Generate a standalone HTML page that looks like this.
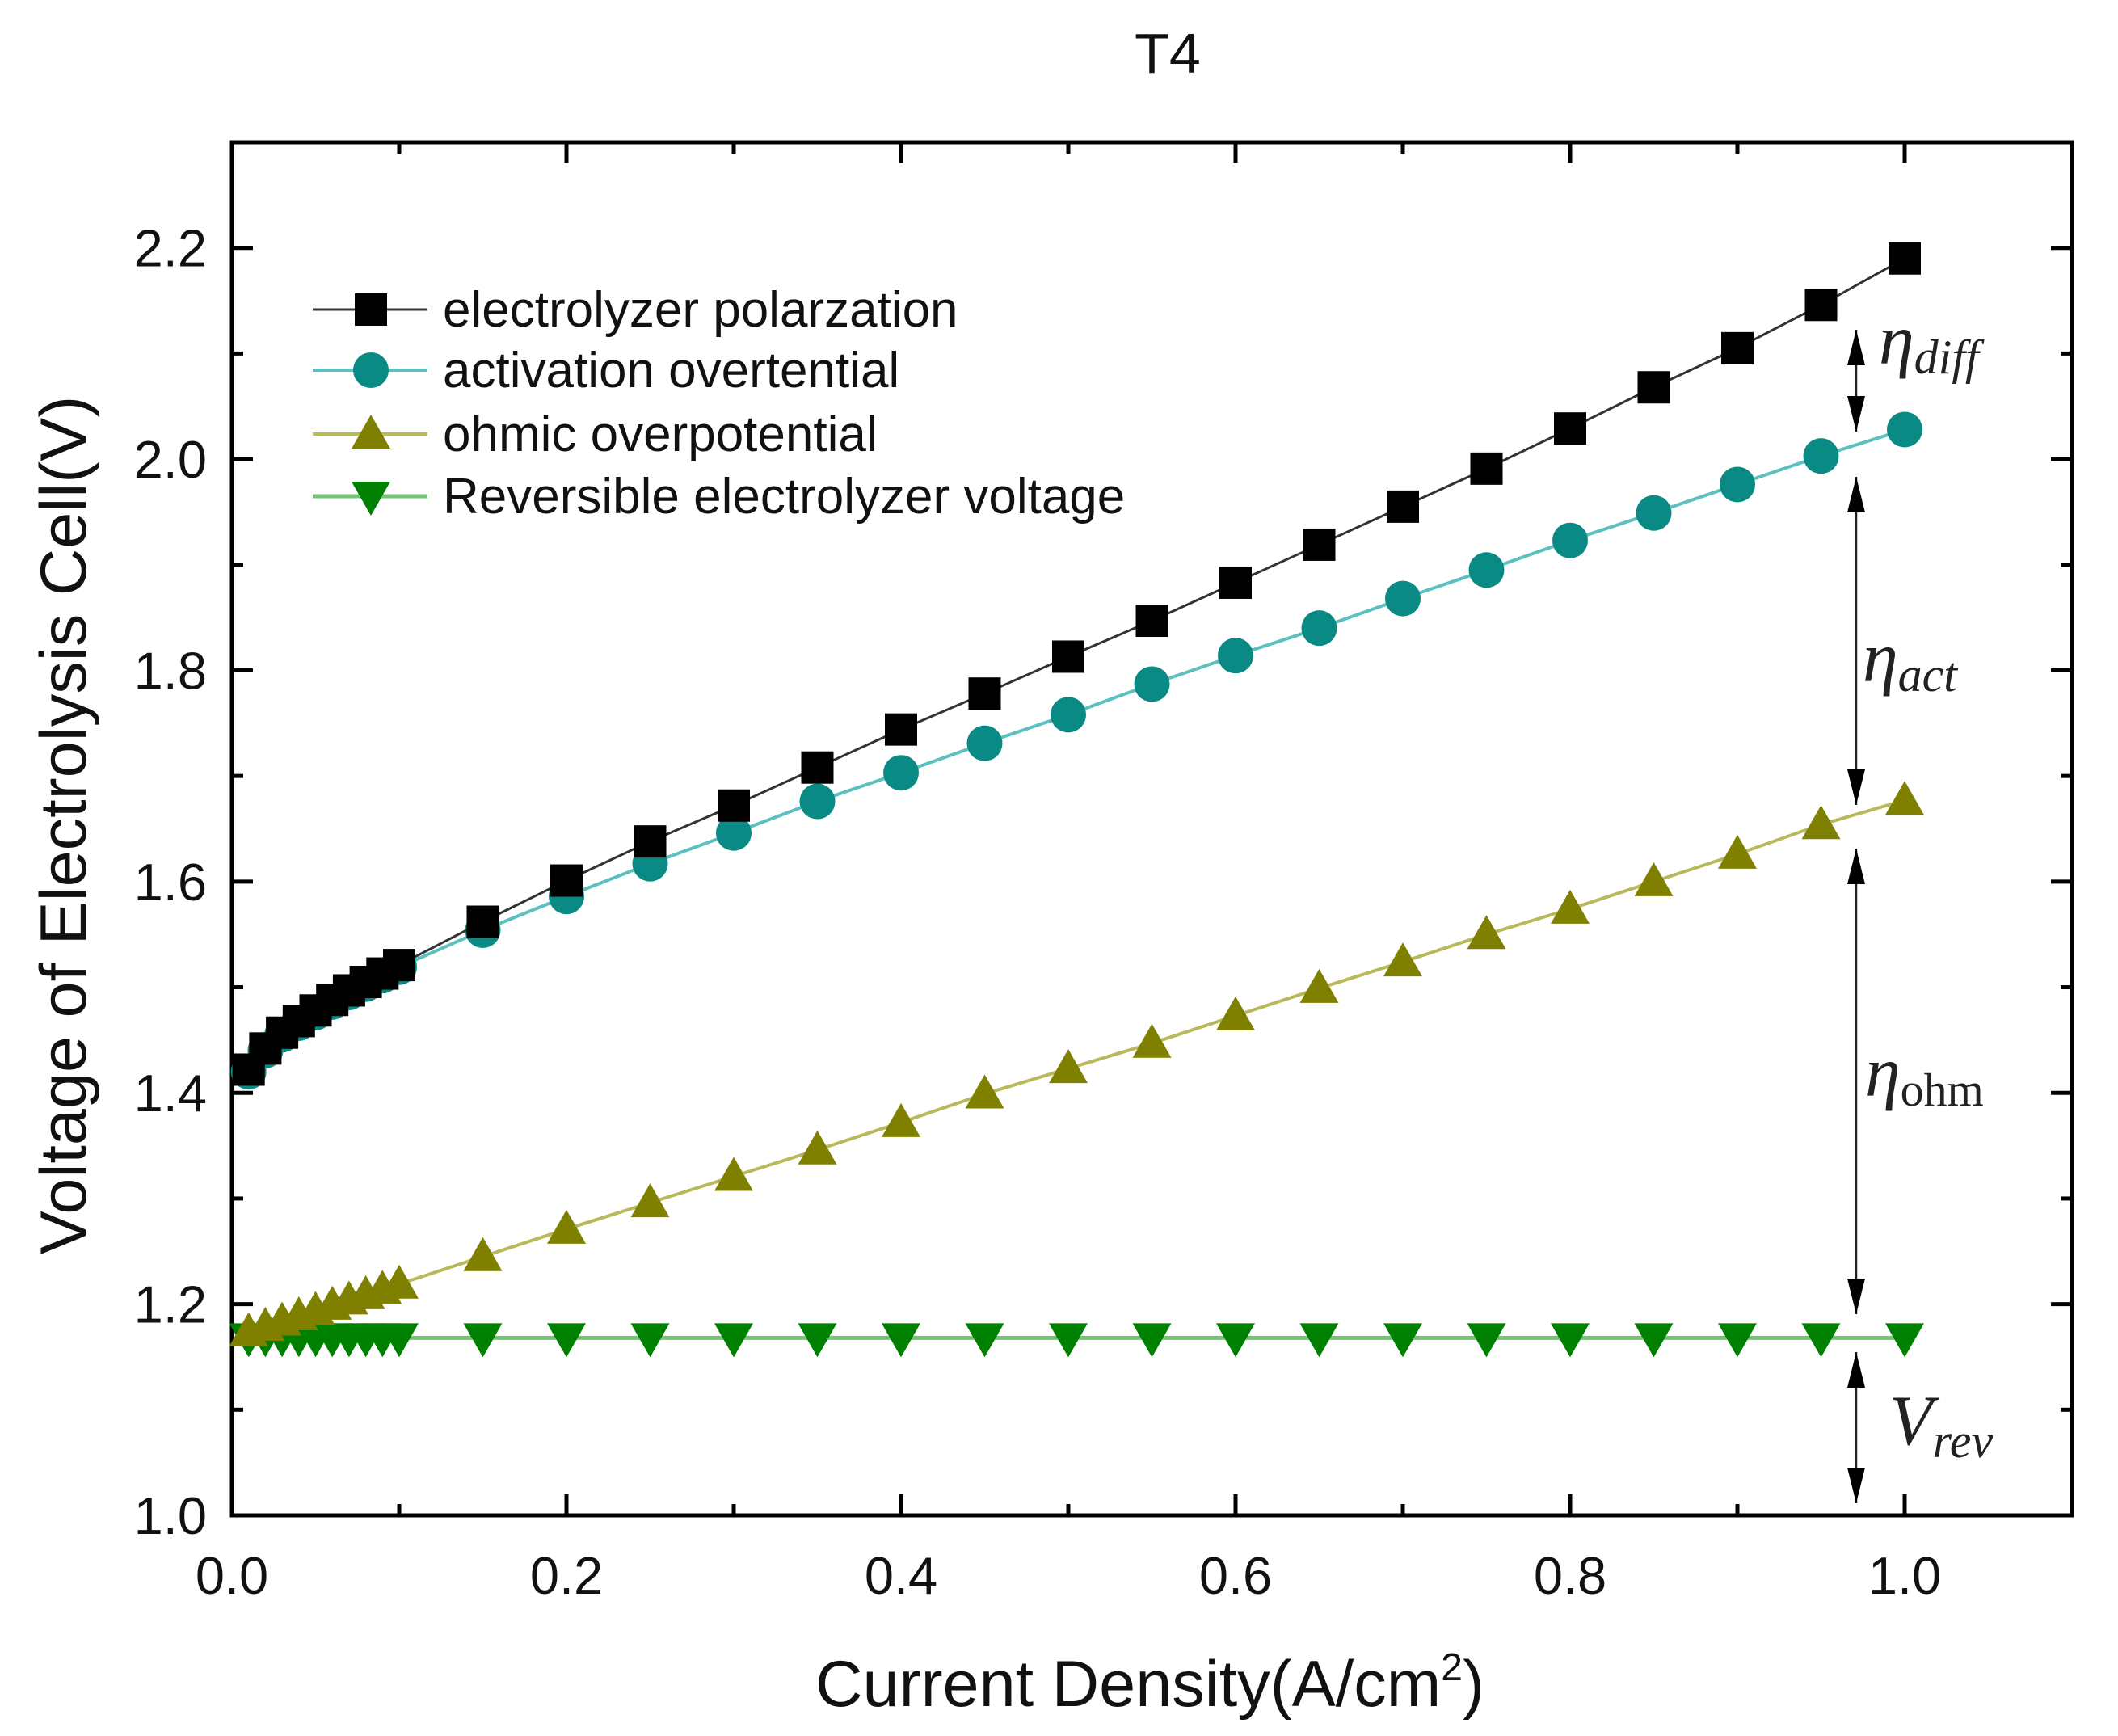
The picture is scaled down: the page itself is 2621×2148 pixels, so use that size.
<!DOCTYPE html>
<html><head><meta charset="utf-8"><style>
html,body{margin:0;padding:0;background:#fff;}
svg{display:block;}
text{font-family:"Liberation Sans",sans-serif;fill:#111;}
.ann{font-family:"Liberation Serif",serif;font-style:italic;fill:#222;}
</style></head><body>
<svg id="chart" width="2621" height="2148" viewBox="0 0 2621 2148" xmlns="http://www.w3.org/2000/svg">
<defs>
<marker id="ah2" viewBox="0 0 40 20" refX="40" refY="10" markerWidth="44" markerHeight="22" markerUnits="userSpaceOnUse" orient="auto-start-reverse"><path d="M0,0 L40,10 L0,20 z" fill="#000"/></marker>
</defs>
<text x="1445" y="90" font-size="70" text-anchor="middle">T4</text>
<g id="plot"></g>
</svg>
<script>
const xLow = [0.01,0.02,0.03,0.04,0.05,0.06,0.07,0.08,0.09,0.1];
const xHigh = [0.15,0.2,0.25,0.3,0.35,0.4,0.45,0.5,0.55,0.6,0.65,0.7,0.75,0.8,0.85,0.9,0.95,1.0];
const currentDensity = xLow.concat(xHigh);
const polarization = [1.422,1.442,1.457,1.468,1.478,1.488,1.497,1.505,1.513,1.521,1.562,1.601,1.638,1.672,1.708,1.744,1.778,1.813,1.847,1.883,1.919,1.955,1.991,2.029,2.068,2.105,2.146,2.19];
const activation = [1.420,1.440,1.455,1.466,1.476,1.486,1.495,1.503,1.511,1.519,1.554,1.586,1.617,1.646,1.676,1.703,1.731,1.758,1.787,1.814,1.840,1.868,1.895,1.923,1.949,1.976,2.003,2.028];
const ohmic = [1.174,1.179,1.184,1.189,1.194,1.199,1.204,1.209,1.214,1.219,1.245,1.271,1.296,1.321,1.346,1.372,1.399,1.423,1.447,1.473,1.499,1.524,1.55,1.574,1.600,1.626,1.654,1.677];
const reversible = [1.168,1.168,1.168,1.168,1.168,1.168,1.168,1.168,1.168,1.168,1.168,1.168,1.168,1.168,1.168,1.168,1.168,1.168,1.168,1.168,1.168,1.168,1.168,1.168,1.168,1.168,1.168,1.168];
const xTicks = [0.0,0.2,0.4,0.6,0.8,1.0];
const xTickLabels = ["0.0","0.2","0.4","0.6","0.8","1.0"];
const yTicks = [1.0,1.2,1.4,1.6,1.8,2.0,2.2];
const yTickLabels = ["1.0","1.2","1.4","1.6","1.8","2.0","2.2"];
const legendLabels = ["electrolyzer polarzation","activation overtential","ohmic overpotential","Reversible electrolyzer voltage"];

const L=287,R=2564,T=176,B=1875;
const X0=0,X1=1.1,Y0=1.0,Y1=2.3;
function sx(v){return L+(v-X0)/(X1-X0)*(R-L);}
function sy(v){return B-(v-Y0)/(Y1-Y0)*(B-T);}
const NS="http://www.w3.org/2000/svg";
const g=document.getElementById('plot');
function mk(tag,attrs,parent){const e=document.createElementNS(NS,tag);for(const k in attrs)e.setAttribute(k,attrs[k]);(parent||g).appendChild(e);return e;}

const frame=mk('rect',{x:L,y:T,width:R-L,height:B-T,fill:'none',stroke:'#000','stroke-width':5});



for(let i=0;i<=11;i++){
  const v=i*0.1;
  const major=i%2===0;
  const len=major?26:14;
  const x=sx(v);
  const t1=mk('line',{x1:x,y1:B,x2:x,y2:B-len,stroke:'#000','stroke-width':5});
  
  
  const t2=mk('line',{x1:x,y1:T,x2:x,y2:T+len,stroke:'#000','stroke-width':5});
  
  
}
for(let i=0;i<=13;i++){
  const v=1.0+i*0.1;
  const major=i%2===0;
  const len=major?26:14;
  const y=sy(v);
  const t1=mk('line',{x1:L,y1:y,x2:L+len,y2:y,stroke:'#000','stroke-width':5});
  
  
  const t2=mk('line',{x1:R,y1:y,x2:R-len,y2:y,stroke:'#000','stroke-width':5});
  
  
}
xTicks.forEach((v,i)=>{
  const t=mk('text',{x:sx(v),y:1972,'font-size':65,'text-anchor':'middle'});
  t.textContent=xTickLabels[i];
  
  
});
yTicks.forEach((v,i)=>{
  const t=mk('text',{x:256,y:sy(v)+23,'font-size':65,'text-anchor':'end'});
  t.textContent=yTickLabels[i];
  
  
});
const xt=mk('text',{x:1423,y:2111,'font-size':81,'text-anchor':'middle'});
xt.innerHTML='Current Density(A/cm<tspan dy="-32" font-size="48">2</tspan><tspan dy="32">)</tspan>';


const yt=mk('text',{x:0,y:0,'font-size':81,'text-anchor':'middle',transform:'translate(106,1021) rotate(-90)'});
yt.textContent='Voltage of Electrolysis Cell(V)';



function marker(kind,cx,cy,color,parent){
  let e;
  if(kind==='square') e=mk('rect',{x:cx-20,y:cy-20,width:40,height:40,fill:color},parent);
  else if(kind==='circle') e=mk('circle',{cx:cx,cy:cy,r:22,fill:color},parent);
  else if(kind==='up') e=mk('polygon',{points:`${cx},${cy-24} ${cx-24},${cy+18} ${cx+24},${cy+18}`,fill:color},parent);
  else e=mk('polygon',{points:`${cx},${cy+24} ${cx-24},${cy-18} ${cx+24},${cy-18}`,fill:color},parent);
  return e;
}
const series=[
 {name:'polarization',vals:polarization,line:'#333',mc:'#000',kind:'square',w:3},
 {name:'activation',vals:activation,line:'#5cc0c0',mc:'#0a8a85',kind:'circle',w:4},
 {name:'ohmic',vals:ohmic,line:'#b9b95a',mc:'#808000',kind:'up',w:4},
 {name:'reversible',vals:reversible,line:'#74c474',mc:'#008000',kind:'down',w:5}
];
[3,2,1,0].forEach(si=>{
  const s=series[si];
  const sg=mk('g',{});
  
  
  const pts=currentDensity.map((x,i)=>sx(x)+','+sy(s.vals[i])).join(' ');
  const pl=mk('polyline',{points:pts,fill:'none',stroke:s.line,'stroke-width':s.w},sg);
  
  
  currentDensity.forEach((x,i)=>{
    const m=marker(s.kind,sx(x),sy(s.vals[i]),s.mc,sg);
    
    
  });
});
const lg=mk('g',{});


const legY=[383,458,537,614];
series.forEach((s,i)=>{
  const eg=mk('g',{},lg);
  
  
  mk('line',{x1:387,y1:legY[i],x2:529,y2:legY[i],stroke:s.line,'stroke-width':s.w},eg);
  marker(s.kind,459,legY[i],s.mc,eg);
  const t=mk('text',{x:548,y:legY[i]+21,'font-size':62},eg);
  t.textContent=legendLabels[i];
});
const ax=2297;
const anns=[
 {y1:408,y2:534,lab:'diff',lx:2325,ly:450},
 {y1:590,y2:996,lab:'act',lx:2305,ly:843},
 {y1:1050,y2:1626,lab:'ohm',lx:2308,ly:1356},
 {y1:1673,y2:1860,lab:'rev',lx:2338,ly:1787}
];
anns.forEach(a=>{
  const l=mk('line',{x1:ax,y1:a.y1,x2:ax,y2:a.y2,stroke:'#222','stroke-width':2.5,'marker-start':'url(#ah2)','marker-end':'url(#ah2)'});
  
  
  const t=mk('text',{x:a.lx,y:a.ly,'font-size':88,class:'ann'});
  if(a.lab==='rev') t.innerHTML='V<tspan dy="16" font-size="60">rev</tspan>';
  else if(a.lab==='ohm') t.innerHTML='η<tspan dy="12" font-size="58" font-style="normal">ohm</tspan>';
  else t.innerHTML='η<tspan dy="12" font-size="60">'+a.lab+'</tspan>';
  
  
});
</script>
</body></html>
